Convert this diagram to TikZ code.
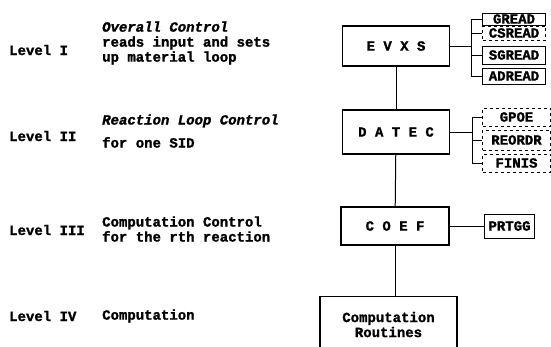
\documentclass[tikz,border=0pt]{standalone}
\usepackage{fontspec}
\setmonofont{Liberation Mono}[BoldFeatures={FakeBold=1.5}, BoldItalicFeatures={FakeBold=1.5}]
\usetikzlibrary{positioning}

\begin{document}
\begin{tikzpicture}[x=1pt, y=-1pt,
  every node/.style={font=\fontsize{14}{15}\selectfont\ttfamily\bfseries},
  lvl/.style={anchor=west, inner sep=0pt},
  desc/.style={anchor=west, align=left, inner sep=0pt},
  blk/.style={draw, line width=1.1pt, inner sep=0pt},
  sub/.style={draw, line width=1pt, anchor=west, inner sep=0pt, minimum width=63pt},
  wire/.style={line width=1pt}]
  \clip (0,0) rectangle (551,346);

  % Levels
  \node[lvl] (lvl1) at (9,50) {Level I};
  \node[desc] (desc1) at (102,43) {{\itshape Overall Control}\\reads input and sets\\up material loop};
  \node[lvl] (lvl2) at (9,136) {Level II};
  \node[desc] (desc2) at (102,131) {{\itshape Reaction Loop Control}\\[8pt]for one SID};
  \node[lvl] (lvl3) at (9,230) {Level III};
  \node[desc] (desc3) at (102,229) {Computation Control\\for the rth reaction};
  \node[lvl] (lvl4) at (9,316) {Level IV};
  \node[desc] (desc4) at (102,316) {Computation};

  % Main chain
  \node[blk, minimum width=107pt, minimum height=40pt] (evxs) at (396,46) {E V X S};
  \node[blk, minimum width=107pt, minimum height=44pt] (datec) at (396,132) {D A T E C};
  \node[blk, minimum width=108pt, minimum height=38pt] (coef) at (395,226) {C O E F};
  \node[blk, anchor=north, minimum width=137pt, minimum height=56pt, align=center] (routines) at (388.5,296) {Computation\\Routines};
  \draw[wire] (evxs) -- (datec);
  \draw[wire] (datec) -- (coef);
  \draw[wire] (coef.south) -- (coef.south |- routines.north);

  % EVXS calls
  \node[sub, minimum height=12pt] (gread) at (482,19) {GREAD};
  \node[sub, dashed, minimum height=14pt] (csread) at (482,33) {CSREAD};
  \node[sub, minimum height=18pt] (sgread) at (482,55) {SGREAD};
  \node[sub, minimum height=16pt] (adread) at (482,76) {ADREAD};
  \coordinate[right=21.5pt of evxs.east] (evxsbus);
  \draw[wire] (evxs.east) -- (evxsbus);
  \foreach \n in {gread,csread,sgread,adread}
    \draw[wire] (\n.west) -| (evxsbus);

  % DATEC calls
  \node[sub, dashed, minimum width=68pt, minimum height=18pt] (gpoe) at (482,117) {GPOE};
  \node[sub, dashed, minimum width=68pt, minimum height=20pt] (reordr) at (482,140) {REORDR};
  \node[sub, dashed, minimum width=68pt, minimum height=18pt] (finis) at (482,163) {FINIS};
  \coordinate[right=22pt of datec.east] (datecbus);
  \draw[wire] (datec.east) -- (datecbus);
  \foreach \n in {gpoe,reordr,finis}
    \draw[wire] (\n.west) -| (datecbus);

  % COEF call
  \node[sub, minimum width=50pt, minimum height=24pt] (prtgg) at (484,226) {PRTGG};
  \draw[wire] (coef) -- (prtgg);
\end{tikzpicture}
\end{document}
